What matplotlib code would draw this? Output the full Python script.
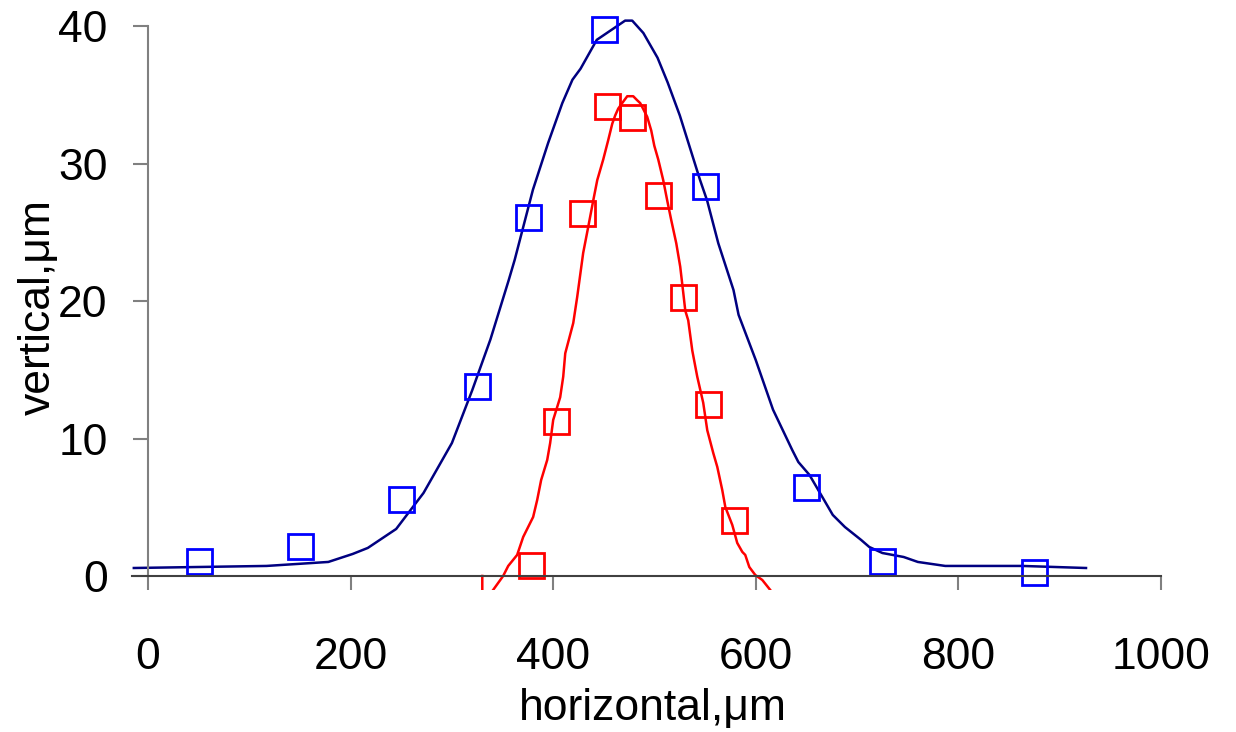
import matplotlib
matplotlib.use('Agg')
import matplotlib.pyplot as plt

plt.rcParams['font.family'] = ['Liberation Sans', 'DejaVu Sans']

# measured points (squares)
blue_x = [50, 150, 250, 325, 375, 450, 550, 650, 725, 875]
blue_y = [1.1, 2.2, 5.6, 13.8, 26.1, 39.8, 28.4, 6.5, 1.1, 0.3]
red_x = [378, 403, 428, 453, 478, 503, 528, 553, 578]
red_y = [0.8, 11.3, 26.4, 34.2, 33.4, 27.7, 20.3, 12.5, 4.1]

# fitted curves
blue_fit_x = [-14, 117, 178, 202, 217, 245, 272, 300, 320, 338, 356, 362, 380, 395,
              409, 419, 427, 443, 461, 471, 478, 489, 503, 513, 525, 545, 552, 563,
              578, 583, 600, 617, 636, 642, 653, 676, 688, 704, 712, 725, 746, 760,
              787, 863, 926]
blue_fit_y = [0.58, 0.73, 1.02, 1.6, 2.04, 3.42, 6.04, 9.67, 13.5, 17.2, 21.5, 23.0,
              28.1, 31.5, 34.4, 36.1, 36.9, 39.0, 39.9, 40.4, 40.4, 39.5, 37.7, 35.9,
              33.5, 28.8, 27.3, 24.2, 20.8, 19.0, 15.7, 12.1, 9.16, 8.29, 7.35, 4.44,
              3.56, 2.62, 2.11, 1.67, 1.38, 1.02, 0.73, 0.73, 0.58]
red_fit_x = [330, 330, 336, 350.6, 355.6, 364.4, 370.4, 380.2, 384.2, 388.1, 394.1,
             397.0, 400.0, 406.9, 409.9, 411.9, 419.8, 423.7, 429.6, 434.6, 439.5,
             443.5, 449.4, 454.3, 458.3, 461.2, 464.2, 468.1, 473.1, 479.0, 483.0,
             485.9, 492.8, 496.8, 499.8, 503.7, 508.6, 512.6, 516.5, 521.5, 525.4,
             528.4, 530.4, 533.3, 537.3, 542.2, 548.1, 552.1, 558.0, 562.0, 566.9,
             569.9, 576.8, 581.7, 586.7, 589.6, 593.6, 599.5, 606.4, 614.3, 620]
red_fit_y = [0, -4, -1.5, 0.0, 0.73, 1.53, 2.84, 4.29, 5.53, 6.98, 8.44, 9.67, 11.35,
             13.0, 14.5, 16.2, 18.4, 20.3, 23.5, 25.4, 27.3, 28.8, 30.3, 31.7, 32.9,
             33.5, 34.0, 34.4, 34.9, 34.9, 34.6, 34.4, 33.4, 32.4, 31.3, 30.3, 28.8,
             27.3, 25.9, 24.2, 22.5, 20.6, 19.3, 18.6, 16.4, 14.5, 12.6, 10.6, 8.95,
             7.93, 6.25, 5.02, 3.71, 2.4, 1.75, 1.53, 0.65, 0.07, -0.29, -1.02, -1.6]

x_ticks = [0, 200, 400, 600, 800, 1000]
y_ticks = [0, 10, 20, 30, 40]

fig = plt.figure(figsize=(12.36, 7.32), dpi=100)
ax = fig.add_axes([0.1068, 0.194, 0.8325, 0.806])

ax.plot(blue_fit_x, blue_fit_y, color='#000080', lw=1.8)
ax.plot(red_fit_x, red_fit_y, color='#ff0000', lw=1.8)
ax.plot(blue_x, blue_y, 's', ms=18, mfc='none', mec='#0000ff', mew=2)
ax.plot(red_x, red_y, 's', ms=18, mfc='none', mec='#ff0000', mew=2)

ax.set_xlim(-15.8, 1000)
ax.set_ylim(-1.02, 41.9)

for s in ['top', 'right']:
    ax.spines[s].set_visible(False)
ax.spines['left'].set_position(('data', 0))
ax.spines['bottom'].set_position(('data', 0))
ax.spines['left'].set_bounds(0, 40)
ax.spines['bottom'].set_bounds(-15.8, 1000)
ax.spines['left'].set_color('#808080')
ax.spines['bottom'].set_color('#404040')
ax.spines['left'].set_linewidth(1.5)
ax.spines['bottom'].set_linewidth(1.5)

ax.set_xticks(x_ticks)
ax.set_yticks(y_ticks)
ax.tick_params(axis='x', direction='out', length=10, width=1.5, color='#808080',
               labelsize=32, pad=34)
ax.tick_params(axis='y', direction='out', length=11, width=1.5, color='#808080',
               labelsize=32, pad=18)

fig.text(0.528, 0.032, 'horizontal,\u03bcm', fontsize=32, ha='center', va='center')
fig.text(0.031, 0.58, 'vertical,\u03bcm', fontsize=32, ha='center', va='center',
         rotation=90)

fig.savefig('out.png', dpi=100)
